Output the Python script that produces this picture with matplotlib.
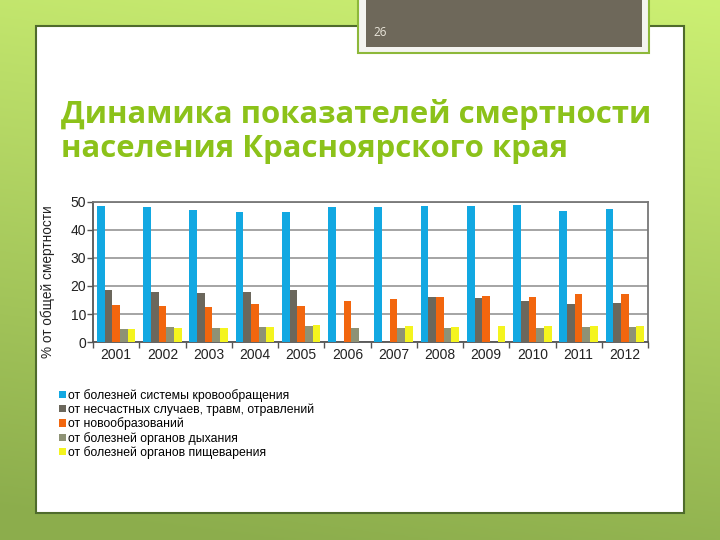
import numpy as np
import matplotlib
matplotlib.use("Agg")
import matplotlib.pyplot as plt
from matplotlib.patches import Rectangle

# ---- data ----
years = ["2001", "2002", "2003", "2004", "2005", "2006",
         "2007", "2008", "2009", "2010", "2011", "2012"]
circulatory = [48.7, 48.2, 47.1, 46.5, 46.3, 48.2, 48.2, 48.4, 48.4, 48.9, 46.8, 47.4]
accidents   = [18.7, 18.0, 17.4, 17.9, 18.5, 0.0, 0.0, 16.0, 15.6, 14.8, 13.6, 13.8]
neoplasms   = [13.1, 12.8, 12.4, 13.5, 12.8, 14.8, 15.3, 16.0, 16.3, 16.2, 17.1, 17.2]
respiratory = [4.8, 5.4, 5.1, 5.4, 5.6, 5.0, 5.0, 5.0, 0.0, 5.1, 5.4, 5.3]
digestive   = [4.8, 5.0, 5.1, 5.4, 6.0, 0.0, 5.6, 5.5, 5.6, 5.8, 5.8, 5.6]
series_labels = ["от болезней системы кровообращения",
                 "от несчастных случаев, травм, отравлений",
                 "от новообразований",
                 "от болезней органов дыхания",
                 "от болезней органов пищеварения"]
series = [circulatory, accidents, neoplasms, respiratory, digestive]
colors = ["#12A8E2", "#6B675C", "#F2660E", "#8E9275", "#F4F41E"]
yticks = [0, 10, 20, 30, 40, 50]
title = "Динамика показателей смертности\nнаселения Красноярского края"
ylabel = "% от общей смертности"
slide_no = "26"

W, H = 720, 540
fig = plt.figure(figsize=(7.2, 5.4), dpi=100)
plt.rcParams['font.family'] = ['Liberation Sans', 'DejaVu Sans']

def fx(x):
    return x / W

def fy(y):
    return 1 - y / H

# ---- background gradient ----
bg = fig.add_axes([0, 0, 1, 1])
bg.set_axis_off()
yy, xx = np.mgrid[0:1:200j, 0:1:200j]
c_top = np.array([0.80, 0.94, 0.45])
c_bot = np.array([0.55, 0.68, 0.30])
t = np.clip(yy * 0.9 + (1 - xx) * 0.15, 0, 1)[..., None]
img = c_top * (1 - t) + c_bot * t
bg.imshow(img, extent=[0, 1, 0, 1], aspect='auto', origin='upper', zorder=0)
bg.set_xlim(0, 1)
bg.set_ylim(0, 1)

# white slide
bg.add_patch(Rectangle((fx(36), fy(513)), fx(684) - fx(36), fy(26) - fy(513),
                       facecolor='white', edgecolor='#4F6B2C', lw=1.5, zorder=2))
# slide-number box
bg.add_patch(Rectangle((fx(358), fy(53)), fx(649) - fx(358), fy(-5) - fy(53),
                       facecolor='#F4F4F0', edgecolor='#8DB83A', lw=1.5, zorder=3))
bg.add_patch(Rectangle((fx(366), fy(47)), fx(642) - fx(366), fy(-5) - fy(47),
                       facecolor='#6E685A', edgecolor='none', zorder=4))
bg.text(fx(373), fy(33), slide_no, color='#EAE6DA', fontsize=8.5,
        family=['Open Sans', 'DejaVu Sans'], va='center', ha='left', zorder=5)

# title
fig.text(fx(61), fy(157), title, color='#8CC21A', fontsize=22.4, fontweight='bold',
         family=['Open Sans', 'DejaVu Sans'], va='baseline', ha='left',
         linespacing=1.17)

# ---- chart ----
ax = fig.add_axes([fx(93), fy(342), fx(648) - fx(93), fy(202) - fy(342)])
ax.set_facecolor('white')
x = np.arange(len(years))
bw = 1 / 6
handles = []
for i, (vals, c) in enumerate(zip(series, colors)):
    b = ax.bar(x + (i - 2) * bw, vals, width=bw, color=c, linewidth=0, zorder=3)
    handles.append(b)

ax.set_xlim(-0.5, len(years) - 0.5)
ax.set_ylim(0, 50)
ax.set_yticks(yticks)
ax.set_yticklabels([str(v) for v in yticks])
ax.yaxis.grid(True, color='#8C8C8C', lw=1.1, zorder=1)
ax.set_axisbelow(True)
ax.set_xticks(x)
ax.set_xticklabels(years)
ax.set_xticks(np.arange(-0.5, len(years), 1), minor=True)
ax.tick_params(axis='x', which='major', length=0, labelsize=10, pad=4, colors='#222222')
ax.tick_params(axis='x', which='minor', length=4, width=1, color='#555555', direction='out')
ax.tick_params(axis='y', length=4, width=1, color='#555555', labelsize=10,
               pad=1, labelcolor='#222222')
for s in ['left', 'bottom']:
    ax.spines[s].set_color('#555555')
    ax.spines[s].set_linewidth(1.3)
for s in ['top', 'right']:
    ax.spines[s].set_color('#777777')
    ax.spines[s].set_linewidth(1.3)
ax.set_ylabel(ylabel, fontsize=9.8, color='#222222')
ax.yaxis.set_label_coords(-0.068, 0.43)

fig.legend(handles, series_labels, loc='upper left',
           bbox_to_anchor=(fx(59), fy(389)), frameon=False, fontsize=8.8,
           handlelength=0.55, handleheight=0.55, handletextpad=0.2,
           labelspacing=0.12, borderaxespad=0, borderpad=0)

fig.savefig("out.png", dpi=100)
